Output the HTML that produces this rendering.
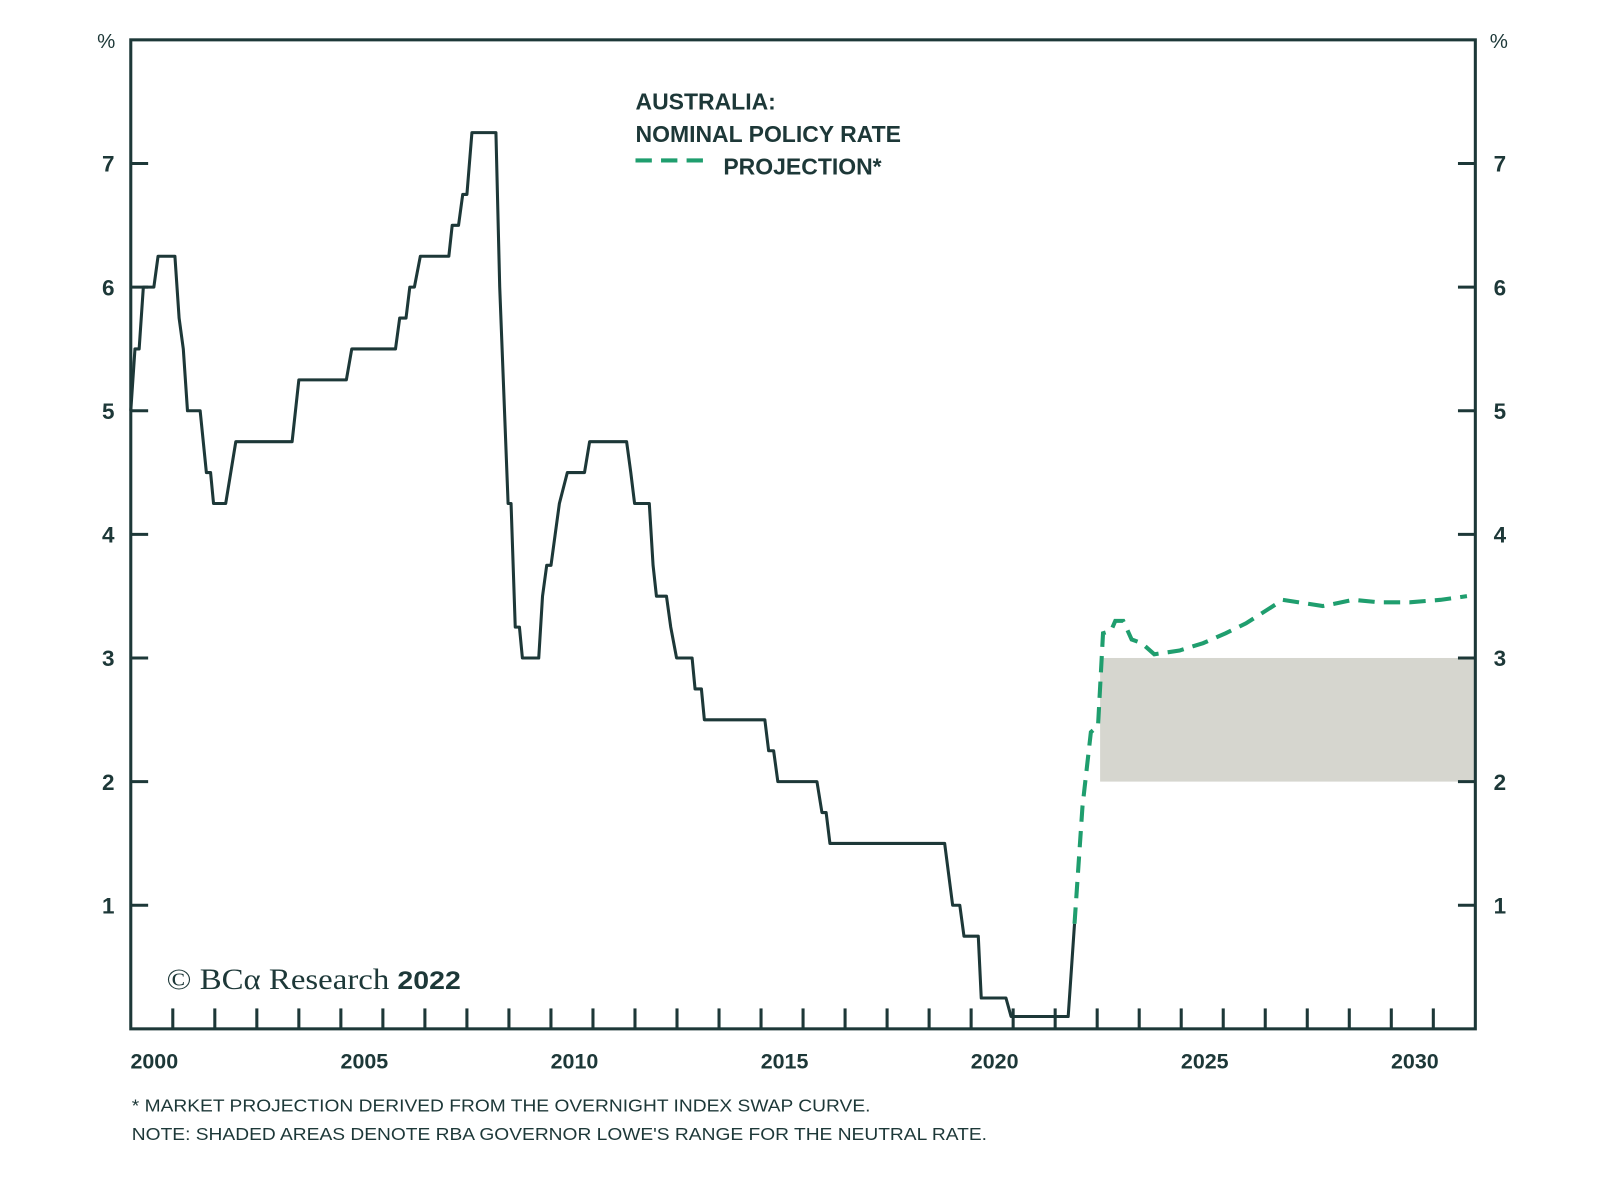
<!DOCTYPE html>
<html><head><meta charset="utf-8"><style>
html,body{margin:0;padding:0;background:#fff;}
svg text{fill:#1d3838;}
</style></head><body>
<svg width="1600" height="1182" viewBox="0 0 1600 1182" xmlns="http://www.w3.org/2000/svg">
<g id="g" transform="scale(1.0217)" font-family="Liberation Sans, sans-serif"></g>
</svg>
<script>
const histYears=[2000.0,2000.1,2000.2,2000.3,2000.55,2000.65,2001.05,2001.15,2001.25,2001.35,2001.65,2001.8,2001.9,2001.97,2002.26,2002.5,2003.84,2004.0,2005.13,2005.26,2006.3,2006.4,2006.55,2006.64,2006.75,2006.89,2007.57,2007.65,2007.8,2007.9,2008.0,2008.12,2008.69,2008.78,2008.98,2009.05,2009.15,2009.25,2009.32,2009.71,2009.8,2009.9,2010.0,2010.1,2010.2,2010.39,2010.8,2010.92,2011.8,2011.9,2011.99,2012.34,2012.43,2012.51,2012.75,2012.85,2012.99,2013.36,2013.43,2013.58,2013.65,2015.09,2015.18,2015.3,2015.4,2016.33,2016.45,2016.55,2016.64,2019.37,2019.56,2019.73,2019.83,2020.17,2020.24,2020.83,2020.95,2022.31,2022.46];
const histRates=[5.0,5.5,5.5,6.0,6.0,6.25,6.25,5.75,5.5,5.0,5.0,4.5,4.5,4.25,4.25,4.75,4.75,5.25,5.25,5.5,5.5,5.75,5.75,6.0,6.0,6.25,6.25,6.5,6.5,6.75,6.75,7.25,7.25,6.0,4.25,4.25,3.25,3.25,3.0,3.0,3.5,3.75,3.75,4.0,4.25,4.5,4.5,4.75,4.75,4.5,4.25,4.25,3.75,3.5,3.5,3.25,3.0,3.0,2.75,2.75,2.5,2.5,2.25,2.25,2.0,2.0,1.75,1.75,1.5,1.5,1.0,1.0,0.75,0.75,0.25,0.25,0.1,0.1,0.85];
const projYears=[2022.46,2022.65,2022.85,2023.02,2023.14,2023.33,2023.43,2023.62,2023.82,2024.06,2024.36,2024.96,2025.52,2026.06,2026.54,2027.42,2028.37,2029.1,2029.71,2030.44,2031.17,2031.8];
const projRates=[0.85,1.8,2.4,2.45,3.2,3.22,3.3,3.3,3.15,3.12,3.03,3.06,3.12,3.2,3.28,3.47,3.42,3.47,3.45,3.45,3.47,3.5];
const neutralLow=2, neutralHigh=3, neutralStart=2023.07;
const yTicks=[1,2,3,4,5,6,7];
const xLabels=[2000,2005,2010,2015,2020,2025,2030];
const L=128,R=1444,T=39,B=1007,x0=2000,x1=2032,yMax=8;
const X=t=>L+(t-x0)/(x1-x0)*(R-L);
const Y=v=>B-v/yMax*(B-T);
const NS='http://www.w3.org/2000/svg',g=document.getElementById('g');
function mk(tag,attrs,txt){const e=document.createElementNS(NS,tag);for(const k in attrs)e.setAttribute(k,attrs[k]);if(txt!==undefined)e.textContent=txt;g.appendChild(e);return e;}
let e;
e=mk('rect',{x:X(neutralStart),y:Y(neutralHigh),width:R-X(neutralStart),height:Y(neutralLow)-Y(neutralHigh),fill:'#d6d6cf'});


e=mk('rect',{x:L,y:T,width:R-L,height:B-T,fill:'none',stroke:'#1d3838','stroke-width':3});


yTicks.forEach(v=>{
 e=mk('line',{x1:L,x2:L+17,y1:Y(v),y2:Y(v),stroke:'#1d3838','stroke-width':3});
 
 
 e=mk('line',{x1:R-17,x2:R,y1:Y(v),y2:Y(v),stroke:'#1d3838','stroke-width':3});
 
 
 e=mk('text',{x:106,y:Y(v)+8,'text-anchor':'middle','font-size':22,'font-weight':'bold'},String(v));
 
 
 e=mk('text',{x:1468,y:Y(v)+8,'text-anchor':'middle','font-size':22,'font-weight':'bold'},String(v));
 
 
});
for(let yr=x0+1;yr<x1;yr++){
 e=mk('line',{x1:X(yr),x2:X(yr),y1:B,y2:B-20,stroke:'#1d3838','stroke-width':3});
 
 
}
xLabels.forEach(yr=>{
 e=mk('text',{x:X(yr+0.56),y:1046,'text-anchor':'middle','font-size':21,'font-weight':'bold'},String(yr));
 
 
});
e=mk('text',{x:104,y:47,'text-anchor':'middle','font-size':20},'%');


e=mk('text',{x:1467,y:47,'text-anchor':'middle','font-size':20},'%');


e=mk('path',{d:histYears.map((t,i)=>(i?'L':'M')+X(t).toFixed(1)+' '+Y(histRates[i]).toFixed(1)).join(''),fill:'none',stroke:'#1d3838','stroke-width':3,'stroke-linejoin':'round'});


e=mk('path',{d:projYears.map((t,i)=>(i?'L':'M')+X(t).toFixed(1)+' '+Y(projRates[i]).toFixed(1)).join(''),fill:'none',stroke:'#1f9e6e','stroke-width':4,'stroke-dasharray':'16 9'});


e=mk('text',{x:622,y:107,'font-size':22.5,'font-weight':'bold'},'AUSTRALIA:');


e=mk('text',{x:622,y:139,'font-size':22.5,'font-weight':'bold'},'NOMINAL POLICY RATE');


e=mk('line',{x1:622,x2:697,y1:157,y2:157,stroke:'#1f9e6e','stroke-width':4,'stroke-dasharray':'16 9'});


e=mk('text',{x:708,y:171,'font-size':22.5,'font-weight':'bold'},'PROJECTION*');


e=mk('text',{x:163,y:968,'font-size':29,textLength:218,lengthAdjust:'spacingAndGlyphs',style:'font-family:"Liberation Serif",serif'},'© BCα Research');


e=mk('text',{x:389,y:968,'font-size':24,'font-weight':'bold',textLength:62,lengthAdjust:'spacingAndGlyphs'},'2022');


e=mk('text',{x:129,y:1088,'font-size':17,textLength:723,lengthAdjust:'spacingAndGlyphs'},'* MARKET PROJECTION DERIVED FROM THE OVERNIGHT INDEX SWAP CURVE.');


e=mk('text',{x:129,y:1116,'font-size':17,textLength:837,lengthAdjust:'spacingAndGlyphs'},'NOTE: SHADED AREAS DENOTE RBA GOVERNOR LOWE\'S RANGE FOR THE NEUTRAL RATE.');


</script>
</body></html>
